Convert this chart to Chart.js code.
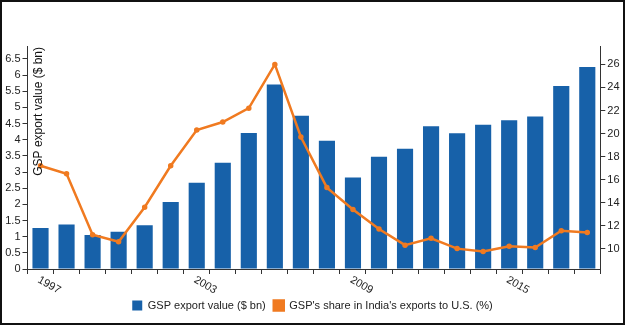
<!DOCTYPE html>
<html lang="en">
<head>
  <meta charset="UTF-8">
  <title>GSP exports</title>
  <script src="https://cdn.jsdelivr.net/npm/chart.js"></script>
  <style>
    body { margin: 0; background: #fff; }
    #wrap {
      position: relative;
      width: 625px;
      height: 325px;
    }
    #wrap::after {
      content: "";
      position: absolute;
      inset: 0;
      border: 2px solid #111;
      pointer-events: none;
    }
    canvas { position: absolute; left: 0; top: 0; }
  </style>
</head>
<body>
  <div id="wrap">
    <canvas id="gspChart" width="625" height="325"></canvas>
  </div>

  <script>
    const years = ['1997','1998','1999','2000','2001','2002','2003','2004','2005','2006','2007',
                   '2008','2009','2010','2011','2012','2013','2014','2015','2016','2017','2018'];
    const exportValue = [1.27, 1.38, 1.05, 1.15, 1.35, 2.07, 2.67, 3.29, 4.21, 5.71, 4.74,
                         3.97, 2.83, 3.47, 3.72, 4.42, 4.2, 4.46, 4.6, 4.72, 5.66, 6.25];
    const sharePct = [17.2, 16.5, 11.2, 10.6, 13.6, 17.2, 20.3, 21.0, 22.2, 26.0, 19.7,
                      15.3, 13.4, 11.7, 10.3, 10.9, 10.0, 9.75, 10.2, 10.1, 11.55, 11.4];
    const xTickLabels = ['1997', '2003', '2009', '2015'];
    const leftTicks = [0, 0.5, 1, 1.5, 2, 2.5, 3, 3.5, 4, 4.5, 5, 5.5, 6, 6.5];
    const rightTicks = [10, 12, 14, 16, 18, 20, 22, 24, 26];

    const blue = '#1761a9';
    const orange = '#f07a20';
    const axisColor = '#333';
    const FONT = 'Liberation Sans, Arial, sans-serif';

    // rotated year labels + y title drawn inside the plot
    const extras = {
      id: 'extras',
      afterDraw(chart) {
        const ctx = chart.ctx;
        const xs = chart.scales.x;
        const area = chart.chartArea;
        ctx.save();
        ctx.fillStyle = '#222';
        ctx.font = '11px ' + FONT;
        ctx.textAlign = 'left';
        ctx.textBaseline = 'middle';
        years.forEach((y, i) => {
          if (!xTickLabels.includes(y)) return;
          const px = xs.getPixelForValue(i);
          ctx.save();
          ctx.translate(px - 2, area.bottom + 10);
          ctx.rotate(Math.PI / 6);
          ctx.fillText(y, 0, 0);
          ctx.restore();
        });
        ctx.font = '12px ' + FONT;
        ctx.fillStyle = '#111';
        ctx.translate(area.left + 11, area.top + 1);
        ctx.rotate(-Math.PI / 2);
        ctx.textAlign = 'right';
        ctx.fillText('GSP export value ($ bn)', 0, 0);
        ctx.restore();
      }
    };

    new Chart(document.getElementById('gspChart'), {
      type: 'bar',
      data: {
        labels: years,
        datasets: [
          {
            label: 'GSP export value ($ bn)',
            data: exportValue,
            backgroundColor: blue,
            yAxisID: 'y',
            order: 1,
            barPercentage: 0.62,
            categoryPercentage: 1
          },
          {
            label: "GSP's share in India's exports to U.S. (%)",
            data: sharePct,
            type: 'line',
            yAxisID: 'y1',
            borderColor: orange,
            backgroundColor: orange,
            borderWidth: 2.5,
            pointRadius: 1.5,
            pointBackgroundColor: orange,
            tension: 0,
            order: 0
          }
        ]
      },
      options: {
        responsive: false,
        animation: false,
        layout: { padding: { top: 46, bottom: 4, left: 0, right: 0 } },
        scales: {
          x: {
            offset: true,
            grid: {
              offset: true,
              drawOnChartArea: false,
              color: axisColor,
              tickLength: 5
            },
            border: { color: axisColor },
            ticks: { display: false, autoSkip: false },
            afterFit: s => { s.height = 23; }
          },
          y: {
            position: 'left',
            min: 0,
            max: 6.9,
            afterBuildTicks: s => { s.ticks = leftTicks.map(v => ({ value: v })); },
            afterFit: s => { s.width = 27.5; },
            grid: { drawOnChartArea: false, color: axisColor, tickLength: 5 },
            border: { color: axisColor },
            ticks: {
              color: '#222',
              font: { family: FONT, size: 11 },
              padding: 2,
              callback: v => String(v)
            }
          },
          y1: {
            position: 'right',
            min: 8.23,
            max: 27.6,
            afterBuildTicks: s => { s.ticks = rightTicks.map(v => ({ value: v })); },
            afterFit: s => { s.width = 24.7; },
            grid: { drawOnChartArea: false, color: axisColor, tickLength: 5 },
            border: { color: axisColor },
            ticks: {
              color: '#222',
              font: { family: FONT, size: 11 },
              padding: 2,
              callback: v => String(v)
            }
          }
        },
        plugins: {
          legend: {
            position: 'bottom',
            labels: {
              boxWidth: 10,
              boxHeight: 10,
              padding: 8,
              color: '#222',
              font: { family: FONT, size: 11 },
              sort: (a, b) => a.datasetIndex - b.datasetIndex
            }
          },
          tooltip: { enabled: false }
        }
      },
      plugins: [extras]
    });
  </script>
</body>
</html>
